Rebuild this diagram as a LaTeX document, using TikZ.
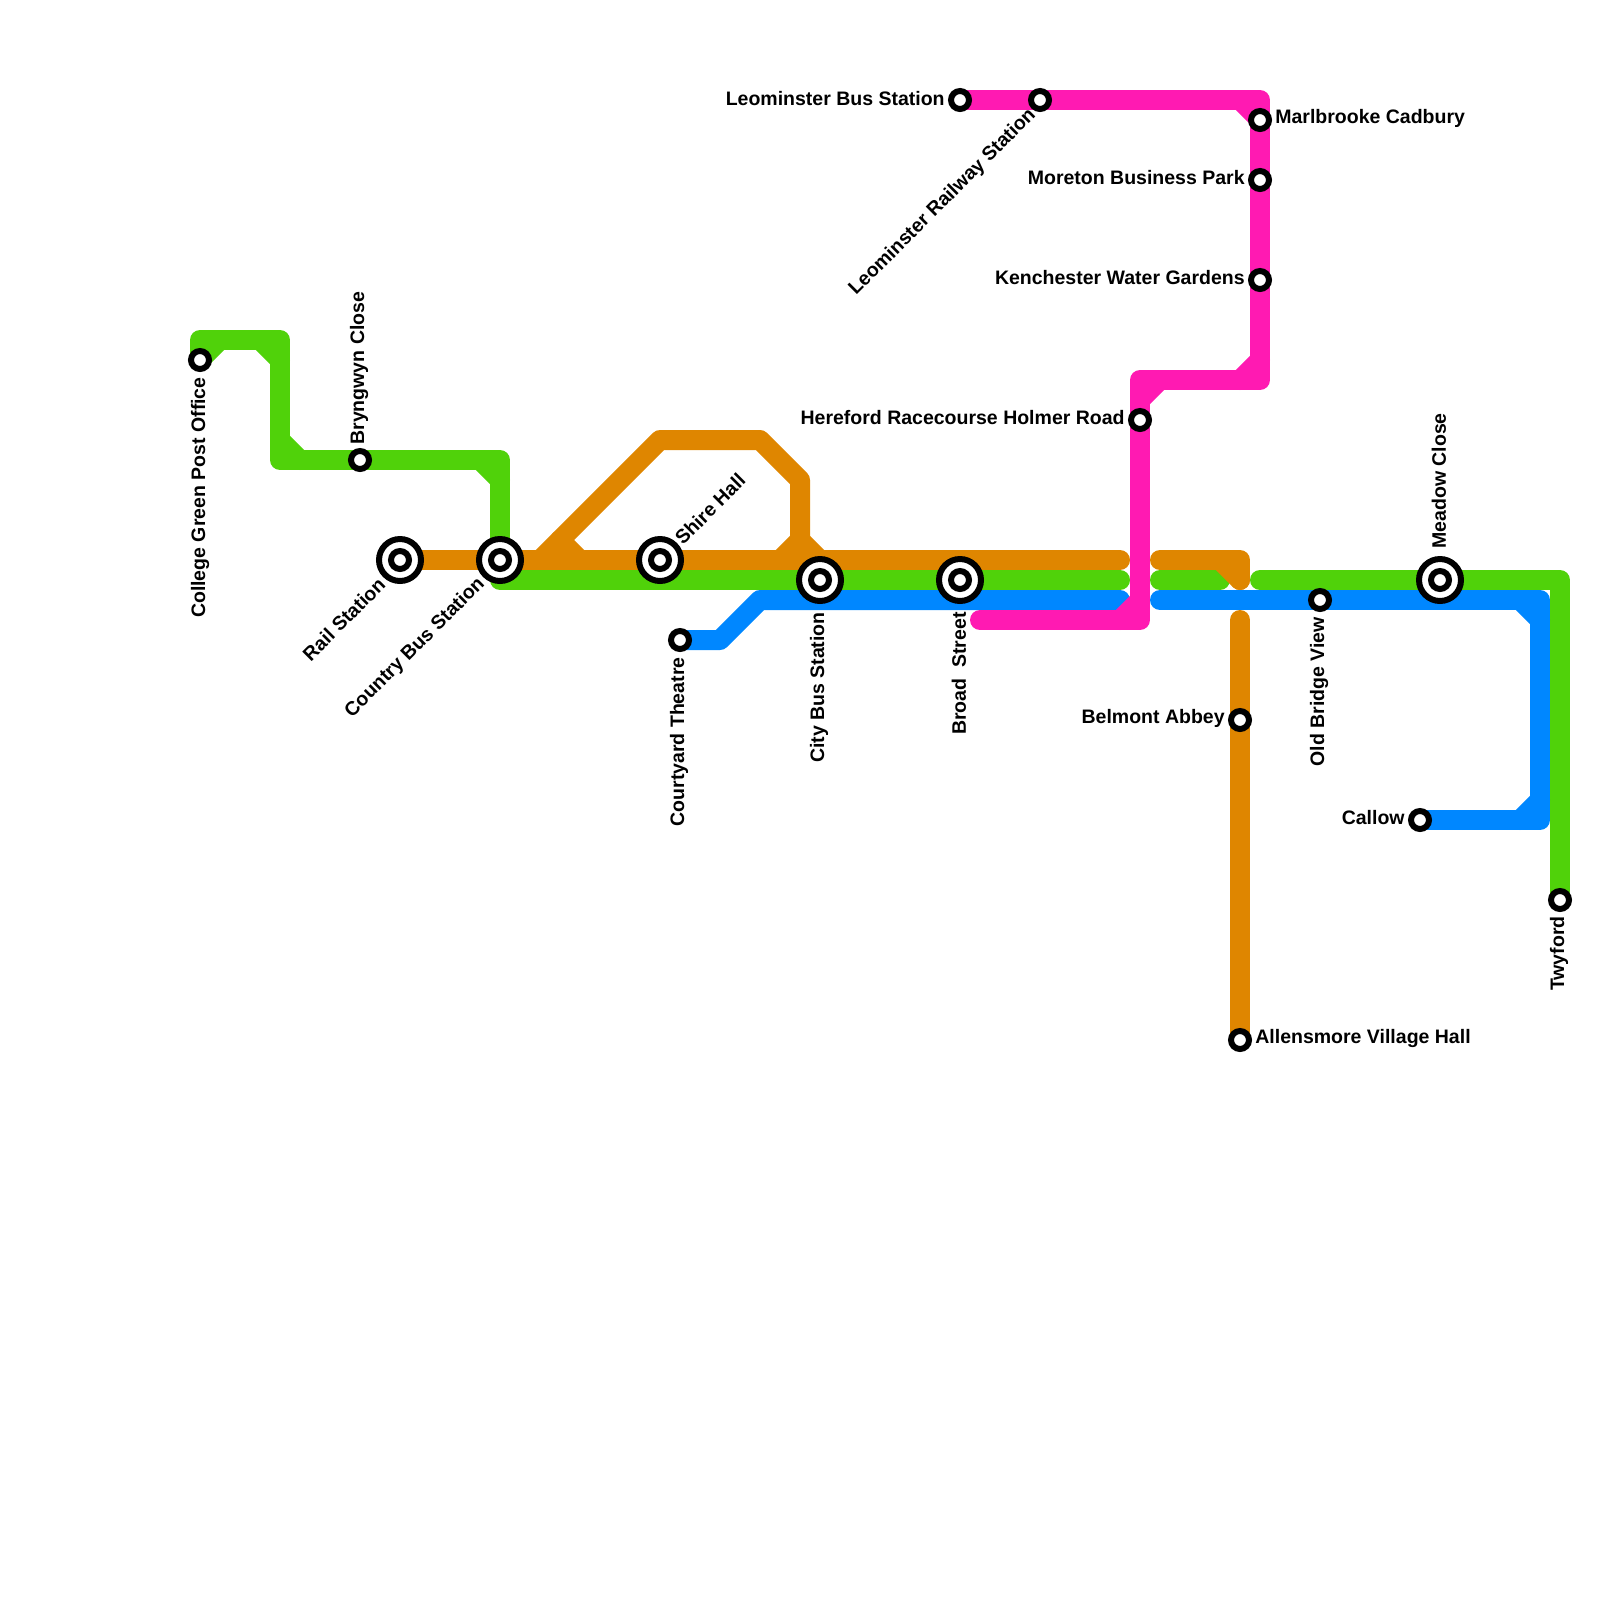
\documentclass[tikz,border=0pt]{standalone}
\usepackage{xcolor}
\usepackage{fontspec}
\setmainfont{Liberation Sans}
\usetikzlibrary{backgrounds}

\definecolor{greenline}{HTML}{50D20A}
\definecolor{orangeline}{HTML}{DF8600}
\definecolor{blueline}{HTML}{0087FF}
\definecolor{pinkline}{HTML}{FF1AB2}

\tikzset{
  route/.style={line width=0.4cm, line join=round, line cap=round},
  station/.style={circle, draw=black, fill=white, line width=0.12cm, inner sep=0pt, outer sep=0pt, minimum size=0.36cm},
  interchange/.style={circle, draw=black, fill=white, line width=0.12cm, inner sep=0pt, outer sep=0pt, minimum size=0.84cm},
  stationlabel/.style={inner sep=0pt, font=\bfseries\fontsize{11.1}{13}\selectfont}
}

\begin{document}
\begin{tikzpicture}[x=0.02cm, y=-0.02cm]

    \useasboundingbox (0,0) rectangle (1600,1600);

    % Large interchanges, ring first
    \node[interchange] (railring) at (400,560) {};
    \node[interchange] (countrybusring) at (500,560) {};
    \node[interchange] (shirehallring) at (660,560) {};
    \node[interchange] (citybusring) at (820,580) {};
    \node[interchange] (broadstreetring) at (960,580) {};
    \node[interchange] (meadowring) at (1440,580) {};

    % Stops
    \node[station] (rail) at (400,560) {};
    \node[station] (countrybus) at (500,560) {};
    \node[station] (shirehall) at (660,560) {};
    \node[station] (citybus) at (820,580) {};
    \node[station] (broadstreet) at (960,580) {};
    \node[station] (meadow) at (1440,580) {};
    \node[station] (college) at (200,360) {};
    \node[station] (bryngwyn) at (360,460) {};
    \node[station] (courtyard) at (680,640) {};
    \node[station] (leobus) at (960,100) {};
    \node[station] (leorail) at (1040,100) {};
    \node[station] (marlbrooke) at (1260,120) {};
    \node[station] (moreton) at (1260,180) {};
    \node[station] (kenchester) at (1260,280) {};
    \node[station] (racecourse) at (1140,420) {};
    \node[station] (belmont) at (1240,720) {};
    \node[station] (allensmore) at (1240,1040) {};
    \node[station] (oldbridge) at (1320,600) {};
    \node[station] (callow) at (1420,820) {};
    \node[station] (twyford) at (1560,900) {};

    \begin{scope}[on background layer]
    % Green line
    \draw[route, greenline] (college.center) -- (200,340) -- (280,340) -- (280,460) -- (bryngwyn.center) -- (500,460) -- (500,580) -- (1120,580);
    \draw[route, greenline] (college.center) -- (220,340);
    \draw[route, greenline] (260,340) -- (280,360);
    \draw[route, greenline] (280,440) -- (300,460);
    \draw[route, greenline] (480,460) -- (500,480);
    \draw[route, greenline] (1160,580) -- (1220,580);
    \draw[route, greenline] (1260,580) -- (meadow.center) -- (1560,580) -- (twyford.center);

    % Orange line
    \draw[route, orangeline] (rail.center) -- (countrybus.center) -- (shirehall.center) -- (1120,560);
    \draw[route, orangeline] (540,560) -- (660,440) -- (760,440) -- (800,480) -- (800,540) -- (780,560);
    \draw[route, orangeline] (560,540) -- (580,560);
    \draw[route, orangeline] (800,540) -- (820,560);
    \draw[route, orangeline] (1160,560) -- (1240,560) -- (1240,580);
    \draw[route, orangeline] (1220,560) -- (1240,580);
    \draw[route, orangeline] (1240,620) -- (belmont.center) -- (allensmore.center);

    % Blue line
    \draw[route, blueline] (courtyard.center) -- (720,640) -- (760,600) -- (1120,600);
    \draw[route, blueline] (1160,600) -- (oldbridge.center) -- (1540,600) -- (1540,820) -- (callow.center);
    \draw[route, blueline] (1520,600) -- (1540,620);
    \draw[route, blueline] (1540,800) -- (1520,820);

    % Pink line
    \draw[route, pinkline] (leobus.center) -- (leorail.center) -- (1260,100) -- (marlbrooke.center) -- (moreton.center) -- (kenchester.center) -- (1260,380) -- (1140,380) -- (racecourse.center) -- (1140,620) -- (980,620);
    \draw[route, pinkline] (1240,100) -- (1260,120);
    \draw[route, pinkline] (1260,360) -- (1240,380);
    \draw[route, pinkline] (1140,400) -- (1160,380);
    \draw[route, pinkline] (1140,600) -- (1120,620);
    \end{scope}

    % Labels
    \node[stationlabel, anchor=east, rotate=90] (collegelabel) at (200,377) {College Green Post Office};
    \node[stationlabel, anchor=west, rotate=90] (bryngwynlabel) at (359,445) {Bryngwyn Close};
    \node[stationlabel, anchor=east, rotate=45] (raillabel) at (382,581) {Rail Station};
    \node[stationlabel, anchor=east, rotate=45] (countrybuslabel) at (482,581) {Country Bus Station};
    \node[stationlabel, anchor=west, rotate=45] (shirehalllabel) at (678,541) {Shire Hall};
    \node[stationlabel, anchor=east, rotate=90] (courtyardlabel) at (679,657) {Courtyard Theatre};
    \node[stationlabel, anchor=east, rotate=90] (citybuslabel) at (819,612) {City Bus Station};
    \node[stationlabel, anchor=east, rotate=90] (broadstreetlabel) at (959,612) {Broad\ \ Street};
    \node[stationlabel, anchor=east] (leobuslabel) at (945,99) {Leominster Bus Station};
    \node[stationlabel, anchor=east, rotate=45] (leoraillabel) at (1033,112) {Leominster Railway Station};
    \node[stationlabel, anchor=west] (marlbrookelabel) at (1275,118) {Marlbrooke Cadbury};
    \node[stationlabel, anchor=east] (moretonlabel) at (1245,178) {Moreton Business Park};
    \node[stationlabel, anchor=east] (kenchesterlabel) at (1245,278) {Kenchester Water Gardens};
    \node[stationlabel, anchor=east] (racecourselabel) at (1125,418) {Hereford Racecourse Holmer Road};
    \node[stationlabel, anchor=east] (belmontlabel) at (1225,718) {Belmont Abbey};
    \node[stationlabel, anchor=west] (allensmorelabel) at (1255,1038) {Allensmore Village Hall};
    \node[stationlabel, anchor=east, rotate=90] (oldbridgelabel) at (1319,617) {Old Bridge View};
    \node[stationlabel, anchor=west, rotate=90] (meadowlabel) at (1439,549) {Meadow Close};
    \node[stationlabel, anchor=east] (callowlabel) at (1405,818) {Callow};
    \node[stationlabel, anchor=east, rotate=90] (twyfordlabel) at (1559,916) {Twyford};

\end{tikzpicture}
\end{document}
